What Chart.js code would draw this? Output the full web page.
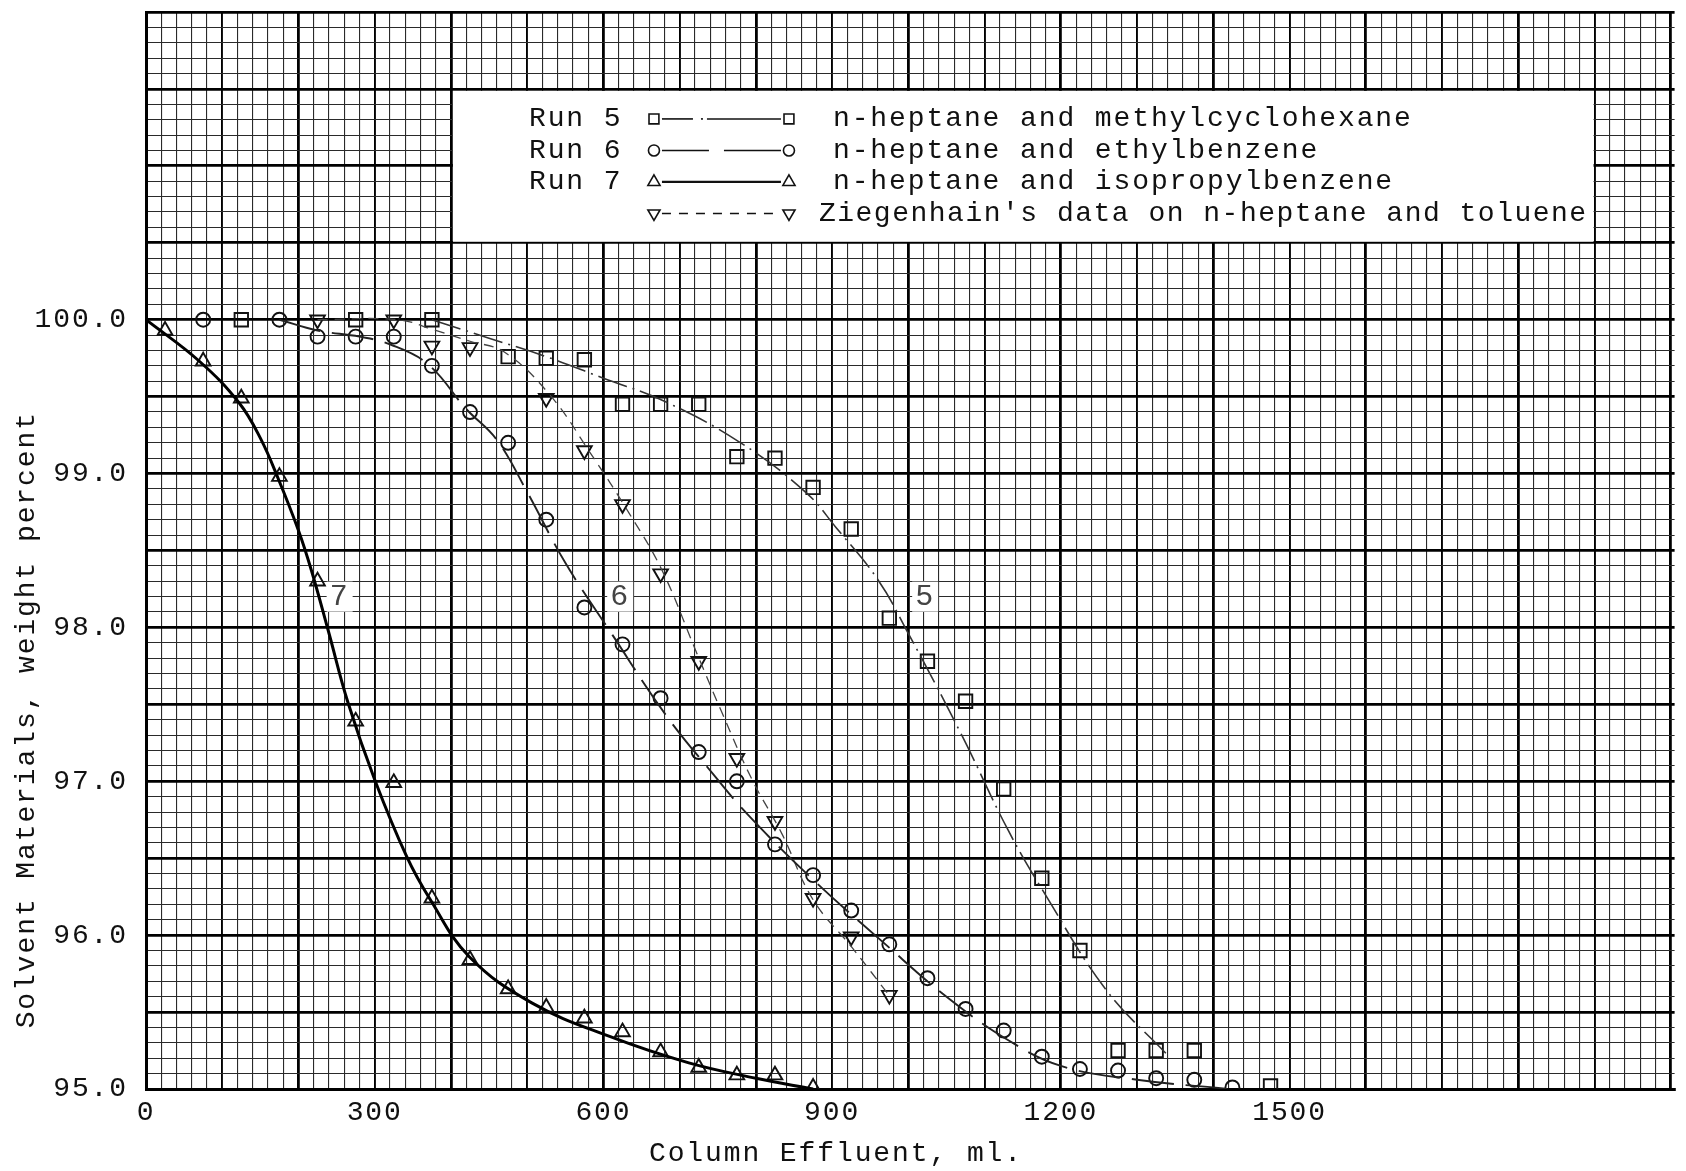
<!DOCTYPE html>
<html>
<head>
<meta charset="utf-8">
<title>Column Effluent</title>
<script src="https://cdn.jsdelivr.net/npm/chart.js@4.4.1/dist/chart.umd.min.js"></script>
<style>
  html, body { margin: 0; padding: 0; background: #fff; overflow: hidden; }
  canvas { display: block; }
</style>
</head>
<body>
<canvas id="effluent" width="1686" height="1171"></canvas>
<script>
const ink = "#111"        // near black
const paper = "#fff"      // white
const fine_line = "#2a2a2a"
const type_font = "'Liberation Mono', 'DejaVu Sans Mono', monospace"

// Run 5 - n-heptane and methylcyclohexane (squares)
const run5_x = [125, 275, 375, 475, 525, 575, 625, 675, 725, 775, 825, 875, 925, 975, 1025, 1075, 1125, 1175, 1225, 1275, 1325, 1375, 1475]
const run5_y = [100.0, 100.0, 100.0, 99.76, 99.75, 99.74, 99.45, 99.45, 99.45, 99.11, 99.10, 98.91, 98.64, 98.06, 97.78, 97.52, 96.95, 96.37, 95.90, 95.25, 95.25, 95.25, 95.02]
// hand drawn curve through run 5
const curve5_x = [375, 450, 525, 600, 680, 780, 865, 905, 960, 1000, 1070, 1130, 1180, 1260, 1340]
const curve5_y = [100.0, 99.88, 99.76, 99.62, 99.47, 99.20, 98.88, 98.65, 98.31, 97.96, 97.30, 96.69, 96.26, 95.64, 95.22]

// Run 6 - n-heptane and ethylbenzene (circles)
const run6_x = [75, 175, 225, 275, 325, 375, 425, 475, 525, 575, 625, 675, 725, 775, 825, 875, 925, 975, 1025, 1075, 1125, 1175, 1225, 1275, 1325, 1375, 1425]
const run6_y = [100.0, 100.0, 99.89, 99.89, 99.89, 99.70, 99.40, 99.20, 98.70, 98.13, 97.89, 97.54, 97.19, 97.00, 96.59, 96.39, 96.16, 95.94, 95.72, 95.52, 95.38, 95.21, 95.13, 95.12, 95.07, 95.06, 95.01]
const curve6_x = [175, 225, 280, 320, 370, 420, 460, 500, 550, 612, 682, 745, 790, 875, 970, 1050, 1130, 1200, 1300, 1420]
const curve6_y = [100.0, 99.93, 99.89, 99.84, 99.71, 99.42, 99.22, 98.88, 98.42, 97.95, 97.43, 97.04, 96.78, 96.36, 95.94, 95.60, 95.32, 95.15, 95.06, 95.00]

// Run 7 - n-heptane and isopropylbenzene (triangles)
const run7_x = [25, 75, 125, 175, 225, 275, 325, 375, 425, 475, 525, 575, 625, 675, 725, 775, 825, 875]
const run7_y = [99.93, 99.73, 99.49, 98.98, 98.30, 97.39, 96.99, 96.24, 95.84, 95.65, 95.53, 95.46, 95.37, 95.24, 95.14, 95.09, 95.09, 95.01]
const curve7_x = [0, 70, 122, 150, 174, 200, 217, 239, 265, 300, 342, 373, 424, 506, 609, 712, 800, 875]
const curve7_y = [100.0, 99.73, 99.46, 99.23, 98.96, 98.63, 98.37, 97.98, 97.51, 97.01, 96.51, 96.23, 95.86, 95.56, 95.34, 95.17, 95.07, 95.00]

// Ziegenhain's data on n-heptane and toluene (inverted triangles)
const zieg_x = [225, 325, 375, 425, 525, 575, 625, 675, 725, 775, 825, 875, 925, 975]
const zieg_y = [100.0, 100.0, 99.83, 99.82, 99.49, 99.15, 98.80, 98.35, 97.78, 97.15, 96.74, 96.24, 95.99, 95.61]
const zieg_curve_x = [225, 330, 380, 425, 470, 530, 582, 634, 677, 721, 756, 795, 834, 875, 926, 976]
const zieg_curve_y = [100.0, 100.0, 99.93, 99.86, 99.79, 99.51, 99.14, 98.74, 98.37, 97.85, 97.44, 97.01, 96.66, 96.23, 95.92, 95.60]

// tick labels
const x_tick_labels = [0, 300, 600, 900, 1200, 1500]
const y_tick_labels = [95, 96, 97, 98, 99, 100]

const legend_runs = ["Run 5", "Run 6", "Run 7", ""]
const legend_texts = ["n-heptane and methylcyclohexane", "n-heptane and ethylbenzene", "n-heptane and isopropylbenzene", "Ziegenhain's data on n-heptane and toluene"]
const curve_labels = ["7", "6", "5"]

function points(xs, ys) {
    return xs.map((x, i) => ({x: x, y: ys[i]}))
}

function draw_marker(ctx, style, x, y, r, rotation) {
    ctx.beginPath()
    if (style == 'rect') {
        const s = r * Math.SQRT1_2
        ctx.rect(x - s, y - s, 2 * s, 2 * s)
    } else if (style == 'circle') {
        ctx.arc(x, y, r, 0, Math.PI * 2)
    } else {
        let a = (rotation || 0) * Math.PI / 180
        for (let k = 0; k < 3; k++) {
            const px = x + Math.sin(a) * r, py = y - Math.cos(a) * r
            k == 0 ? ctx.moveTo(px, py) : ctx.lineTo(px, py)
            a += Math.PI * 2 / 3
        }
        ctx.closePath()
    }
    ctx.stroke()
}

function marker_set(label, xs, ys, style, radius, rotation) {
    return {
        label: label,
        data: points(xs, ys),
        showLine: false,
        pointStyle: style,
        pointRadius: radius,
        pointRotation: rotation || 0,
        pointBorderWidth: 1.9,
        pointBorderColor: ink,
        pointBackgroundColor: 'rgba(0,0,0,0)',
    }
}

function curve_set(label, xs, ys, width, dash, colour) {
    return {
        label: label,
        data: points(xs, ys),
        showLine: true,
        pointRadius: 0,
        borderColor: colour,
        borderWidth: width,
        borderDash: dash,
        tension: 0.4,
        fill: false,
    }
}

// graph paper look, legend panel, titles, curve numbers
const paper_plugin = {
    id: 'paperSheet',
    beforeDraw(chart) {
        chart.ctx.letterSpacing = '1.9px'
    },
    afterDraw(chart) {
        const ctx = chart.ctx
        const xs = chart.scales.x, ys = chart.scales.y
        ctx.save()
        ctx.letterSpacing = '1.9px'

        // legend panel
        const left = xs.getPixelForValue(400), right = xs.getPixelForValue(1900)
        const top = ys.getPixelForValue(101.5), bottom = ys.getPixelForValue(100.5)
        ctx.fillStyle = paper
        ctx.fillRect(left + 2, top + 2, right - left - 3, bottom - top - 3)

        ctx.font = `28px ${type_font}`
        ctx.fillStyle = ink
        ctx.textBaseline = 'middle'
        ctx.strokeStyle = ink
        const styles = [['rect', 7, 0], ['circle', 5.5, 0], ['triangle', 7, 0], ['triangle', 7, 180]]
        const segments = [
            [[8, 39], [47, 49], [53, 127]],
            [[8, 55], [70, 127]],
            [[8, 127]],
        ]
        for (let i = 0; i < 4; i++) {
            const row_y = top + 30 + i * 31.5
            const m1 = left + 203, m2 = left + 338
            ctx.letterSpacing = '1.9px'
            ctx.fillText(legend_runs[i], left + 78, row_y)
            if (i == 3) ctx.letterSpacing = '1.5px'  // last line is typed tighter
            ctx.fillText(legend_texts[i], left + (i == 3 ? 368 : 382), row_y)
            ctx.lineWidth = 1.6
            draw_marker(ctx, styles[i][0], m1, row_y, styles[i][1], styles[i][2])
            draw_marker(ctx, styles[i][0], m2, row_y, styles[i][1], styles[i][2])
            ctx.lineWidth = i == 2 ? 2.2 : 1.6
            if (i < 3) {
                segments[i].forEach(seg => {
                    ctx.beginPath()
                    ctx.moveTo(m1 + seg[0], row_y)
                    ctx.lineTo(m1 + seg[1], row_y)
                    ctx.stroke()
                })
            } else {
                ctx.setLineDash([9, 8])
                ctx.beginPath()
                ctx.moveTo(m1 + 8, row_y)
                ctx.lineTo(m2 - 8, row_y)
                ctx.stroke()
                ctx.setLineDash([])
            }
        }
        ctx.letterSpacing = '1.9px'

        // curve numbers
        const label_pos = [[254, 98.2], [622, 98.2], [1022, 98.2]]
        ctx.font = `30px ${type_font}`
        ctx.textAlign = 'center'
        curve_labels.forEach((txt, i) => {
            const px = xs.getPixelForValue(label_pos[i][0]), py = ys.getPixelForValue(label_pos[i][1])
            ctx.fillStyle = paper
            ctx.fillRect(px - 13, py - 15, 26, 30)
            ctx.fillStyle = '#444'
            ctx.fillText(txt, px, py)
        })

        // axis titles
        ctx.fillStyle = ink
        ctx.font = `28px ${type_font}`
        ctx.fillText('Column Effluent, ml.', xs.getPixelForValue(905), 1154)
        ctx.translate(27, ys.getPixelForValue(97.4))
        ctx.rotate(-Math.PI / 2)
        ctx.fillText('Solvent Materials, weight percent', 0, 0)
        ctx.restore()
    }
}

function effluent_chart(canvas) {
    new Chart(canvas, {
        type: 'scatter',
        data: {
            datasets: [
                curve_set('curve 5', curve5_x, curve5_y, 1.6, [30, 6, 2, 6], '#333'),
                curve_set('curve 6', curve6_x, curve6_y, 1.9, [42, 12], '#222'),
                curve_set('curve 7', curve7_x, curve7_y, 3, [], '#000'),
                curve_set('curve Ziegenhain', zieg_curve_x, zieg_curve_y, 1.3, [10, 7], '#444'),
                marker_set('Run 5', run5_x, run5_y, 'rect', 9.5),
                marker_set('Run 6', run6_x, run6_y, 'circle', 7),
                marker_set('Run 7', run7_x, run7_y, 'triangle', 8.5),
                marker_set("Ziegenhain's data", zieg_x, zieg_y, 'triangle', 8.5, 180),
            ]
        },
        options: {
            responsive: false,
            animation: false,
            layout: {padding: {top: 12, left: 0, right: 0, bottom: 0}},
            font: {family: type_font, size: 28},
            plugins: {
                legend: {display: false},
                tooltip: {enabled: false},
            },
            scales: {
                x: {
                    type: 'linear',
                    min: 0,
                    max: 2005,
                    afterBuildTicks(scale) {
                        scale.ticks = Array.from({length: 101}, (_, i) => ({value: i * 20}))
                    },
                    afterFit(scale) {
                        scale.height = 82
                        scale.paddingLeft = 0
                        scale.paddingRight = 0
                    },
                    border: {display: true, color: '#000', width: 3},
                    grid: {
                        drawTicks: false,
                        color: (c) => c.tick.value % 100 == 0 ? '#000' : fine_line,
                        lineWidth: (c) => c.tick.value % 200 == 0 ? 2.8 : (c.tick.value % 100 == 0 ? 1.9 : 1.1),
                    },
                    ticks: {
                        autoSkip: false,
                        maxRotation: 0,
                        minRotation: 0,
                        padding: 7,
                        color: ink,
                        font: {family: type_font, size: 28},
                        callback: (v) => x_tick_labels.includes(v) ? String(v) : '',
                    }
                },
                y: {
                    type: 'linear',
                    min: 95,
                    max: 102,
                    afterBuildTicks(scale) {
                        scale.ticks = Array.from({length: 71}, (_, i) => ({value: (950 + i) / 10}))
                    },
                    afterFit(scale) {
                        scale.width = 146
                        scale.paddingTop = 0
                        scale.paddingBottom = 0
                    },
                    border: {display: true, color: '#000', width: 3},
                    grid: {
                        drawTicks: false,
                        color: (c) => Math.round(c.tick.value * 10) % 5 == 0 ? '#000' : fine_line,
                        lineWidth: (c) => Math.round(c.tick.value * 10) % 5 == 0 ? 2.8 : 1.1,
                    },
                    ticks: {
                        autoSkip: false,
                        padding: 18,
                        color: ink,
                        font: {family: type_font, size: 28},
                        callback: (v) => y_tick_labels.includes(Math.round(v * 10) / 10) ? v.toFixed(1) : '',
                    }
                }
            }
        },
        plugins: [paper_plugin]
    })
}

const canvas = document.getElementById('effluent')
if (canvas) {
    effluent_chart(canvas)
}
</script>
</body>
</html>
